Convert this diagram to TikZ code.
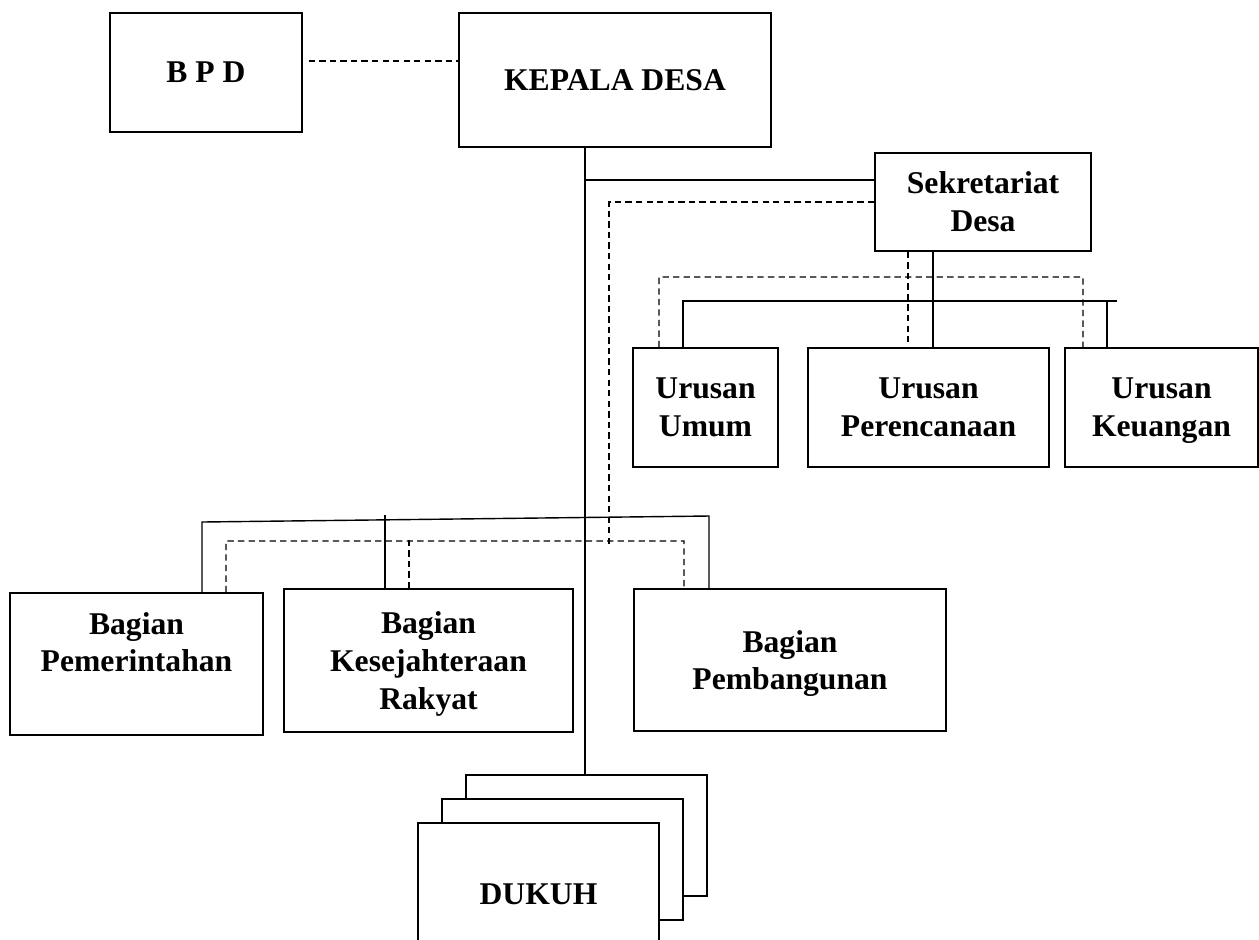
\documentclass[tikz,border=0pt]{standalone}
\usepackage{fontspec}
\setmainfont{Liberation Serif}
\usetikzlibrary{positioning}
\tikzset{
  unit/.style={draw, line width=0.8pt, fill=white, align=center, inner sep=2pt, font=\bfseries\fontsize{18}{21.5}\selectfont},
  cmd/.style={line width=0.8pt},
  crd/.style={line width=0.8pt, dash pattern=on 3.6pt off 2.4pt},
}
\begin{document}
\begin{tikzpicture}
\useasboundingbox (0,0) rectangle (25.18,-18.78);
% pimpinan
\node[unit, minimum width=3.84cm, minimum height=2.38cm] (bpd) at (4.12,-1.45) {B P D};
\node[unit, minimum width=6.24cm, minimum height=2.68cm] (kades) at (12.30,-1.60) {KEPALA DESA};
\node[unit, minimum width=4.32cm, minimum height=1.96cm] (sekdes) at (19.66,-4.04) {Sekretariat\\Desa};
% urusan
\node[unit, minimum width=2.90cm, minimum height=2.38cm] (umum) at (14.11,-8.15) {Urusan\\Umum};
\node[unit, minimum width=4.82cm, minimum height=2.38cm] (renc) at (18.57,-8.15) {Urusan\\Perencanaan};
\node[unit, minimum width=3.86cm, minimum height=2.38cm, text depth=0pt] (keu) at (23.23,-8.15) {Urusan\\Keuangan};
% bagian
\node[unit, minimum width=5.06cm, minimum height=2.84cm, text depth=25pt] (pem) at (2.73,-13.28) {Bagian\\Pemerintahan};
\node[unit, minimum width=5.78cm, minimum height=2.86cm, text depth=0pt] (kesra) at (8.57,-13.21) {Bagian\\Kesejahteraan\\Rakyat};
\node[unit, minimum width=6.24cm, minimum height=2.84cm, text depth=0pt] (pemb) at (15.80,-13.20) {Bagian\\Pembangunan};
% dukuh
\node[unit, minimum width=4.82cm, minimum height=2.42cm] (dk3) at (11.73,-16.71) {};
\node[unit, minimum width=4.82cm, minimum height=2.42cm] (dk2) at ([shift={(-0.48,-0.48)}]dk3.center) {};
\node[unit, minimum width=4.82cm, minimum height=2.42cm, text height=24pt] (dk1) at ([shift={(-0.48,-0.48)}]dk2.center) {DUKUH};

\coordinate (spine) at ([xshift=-6mm]kades.south);
\coordinate (sekdrop) at (12.18,-10.94);
\draw[crd] ([xshift=1.2mm,yshift=2.3mm]bpd.east) -- ([yshift=2.3mm]bpd.east -| kades.west);
\draw[cmd] (spine) -- (spine |- dk3.north);
\draw[cmd] ([yshift=4.4mm]sekdes.west) -- ([yshift=4.4mm]sekdes.west -| spine);
\draw[crd] (sekdes.west) -| (sekdrop);
% garis urusan
\draw[cmd] ([xshift=0.9mm]renc.north |- sekdes.south) -- ([xshift=0.9mm]renc.north);
\draw[cmd] ([xshift=-4.5mm]umum.north) |- (22.34,-6.02);
\draw[cmd] ([xshift=-10.9mm]keu.north) -- ++(0,0.94);
\draw[crd] ([xshift=-9.3mm]umum.north) |- (21.66,-5.54) -- ([xshift=-15.7mm]keu.north);
\draw[crd] ([xshift=-4.1mm]renc.north |- sekdes.south) -- ([xshift=-4.1mm]renc.north);
% garis bagian
\coordinate (bl) at (4.04,-10.44);
\coordinate (br) at (14.18,-10.32);
\draw[cmd] ([xshift=13.1mm]pem.north) -- (bl) -- (br) -- ([xshift=-16.2mm]pemb.north);
\draw[cmd] ([xshift=-8.7mm]kesra.north) -- ++(0,1.46);
\draw[crd] ([xshift=17.9mm]pem.north) |- (13.68,-10.82) -- ([xshift=-21.2mm]pemb.north);
\draw[crd] ([xshift=-3.9mm]kesra.north) -- ++(0,0.96);
\end{tikzpicture}
\end{document}
